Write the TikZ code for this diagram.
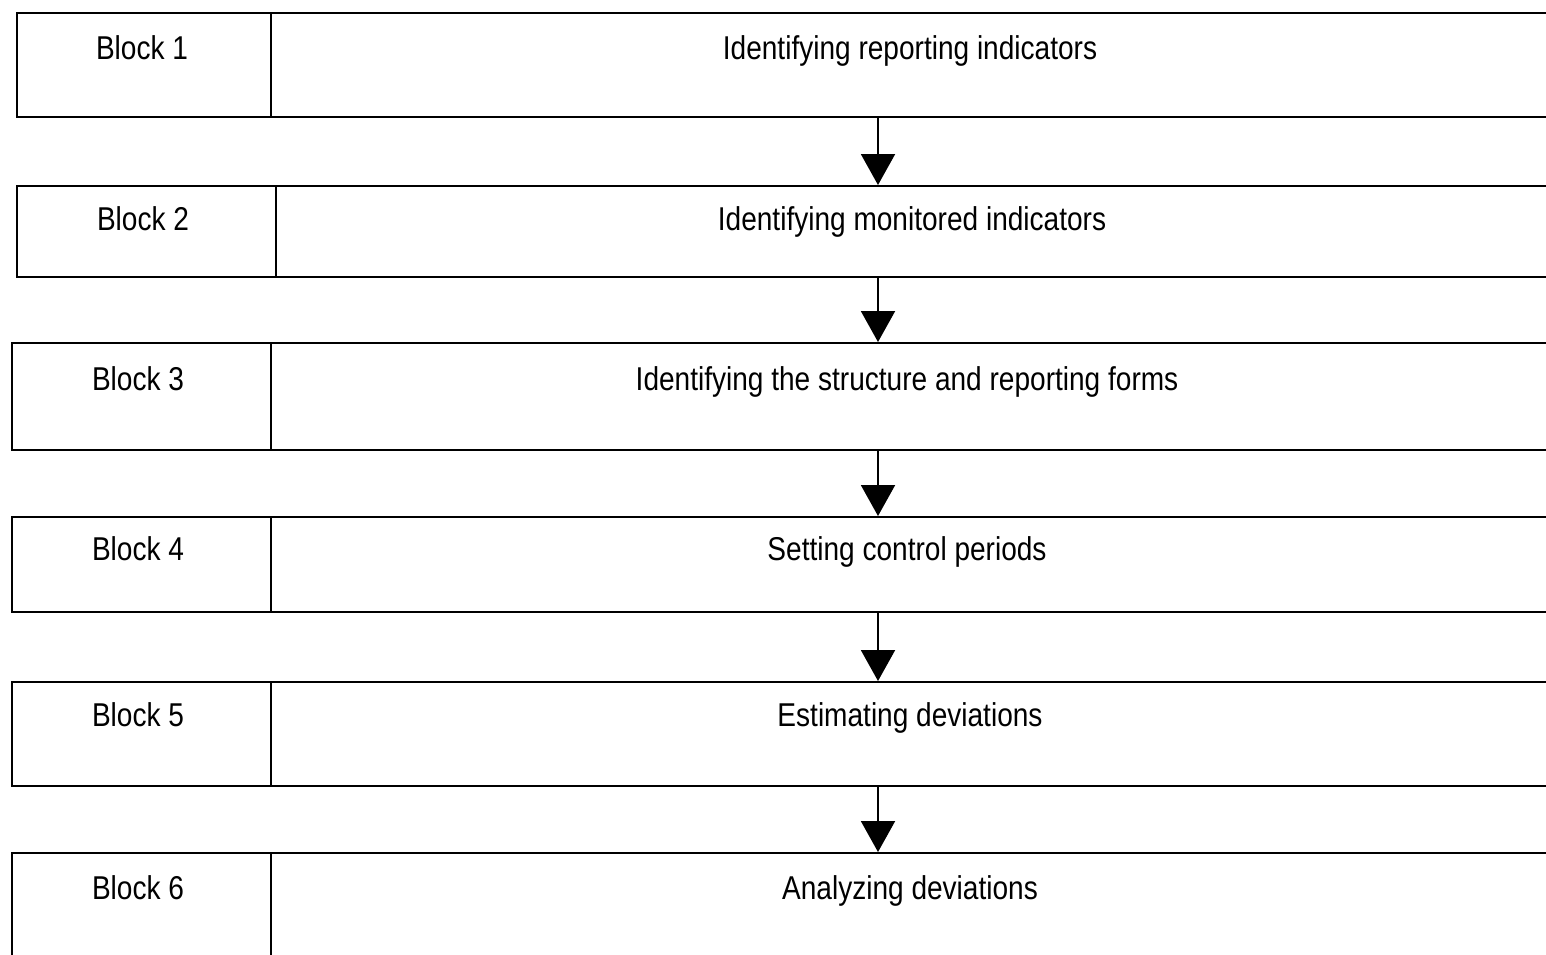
\documentclass[tikz,border=0pt]{standalone}
\usepackage{fontspec}
\setmainfont{Liberation Sans}[FakeStretch=0.85]
\usetikzlibrary{arrows.meta}
\begin{document}
\begin{tikzpicture}[x=0.5pt,y=-0.5pt,
  cell/.style={draw=black, line width=1pt, rectangle, inner sep=0pt, anchor=north west},
  txt/.style={anchor=base, inner sep=0pt, font=\fontsize{16.5}{18}\selectfont},
  flow/.style={line width=1pt, -{Triangle[width=17pt,length=15.5pt]}}]
\useasboundingbox (0,0) rectangle (1546,954);
\clip (0,0) rectangle (1546,954);
% row 1
\node[cell, minimum width=127pt, minimum height=52pt] (b1) at (16,12) {};
\node[cell, minimum width=665pt, minimum height=52pt] (m1) at (270,12) {};
\node[txt] (l1) at (142,59) {Block 1};
\node[txt] (t1) at (910,59) {Identifying reporting indicators};
% row 2
\node[cell, minimum width=129.5pt, minimum height=45.5pt] (b2) at (16,185) {};
\node[cell, minimum width=662.5pt, minimum height=45.5pt] (m2) at (275,185) {};
\node[txt] (l2) at (143,230) {Block 2};
\node[txt] (t2) at (912,230) {Identifying monitored indicators};
% row 3
\node[cell, minimum width=129.5pt, minimum height=53.5pt] (b3) at (11,342) {};
\node[cell, minimum width=665pt, minimum height=53.5pt] (m3) at (270,342) {};
\node[txt] (l3) at (138,390) {Block 3};
\node[txt] (t3) at (907,390) {Identifying the structure and reporting forms};
% row 4
\node[cell, minimum width=129.5pt, minimum height=47.5pt] (b4) at (11,516) {};
\node[cell, minimum width=665pt, minimum height=47.5pt] (m4) at (270,516) {};
\node[txt] (l4) at (138,560) {Block 4};
\node[txt] (t4) at (907,560) {Setting control periods};
% row 5
\node[cell, minimum width=129.5pt, minimum height=52pt] (b5) at (11,681) {};
\node[cell, minimum width=665pt, minimum height=52pt] (m5) at (270,681) {};
\node[txt] (l5) at (138,726) {Block 5};
\node[txt] (t5) at (910,726) {Estimating deviations};
% row 6
\node[cell, minimum width=129.5pt, minimum height=74pt] (b6) at (11,852) {};
\node[cell, minimum width=665pt, minimum height=74pt] (m6) at (270,852) {};
\node[txt] (l6) at (138,899) {Block 6};
\node[txt] (t6) at (910,899) {Analyzing deviations};
% arrows
\coordinate (ax) at (878,0);
\draw[flow] (m1.south -| ax) -- (m2.north -| ax);
\draw[flow] (m2.south -| ax) -- (m3.north -| ax);
\draw[flow] (m3.south -| ax) -- (m4.north -| ax);
\draw[flow] (m4.south -| ax) -- (m5.north -| ax);
\draw[flow] (m5.south -| ax) -- (m6.north -| ax);
\end{tikzpicture}
\end{document}
